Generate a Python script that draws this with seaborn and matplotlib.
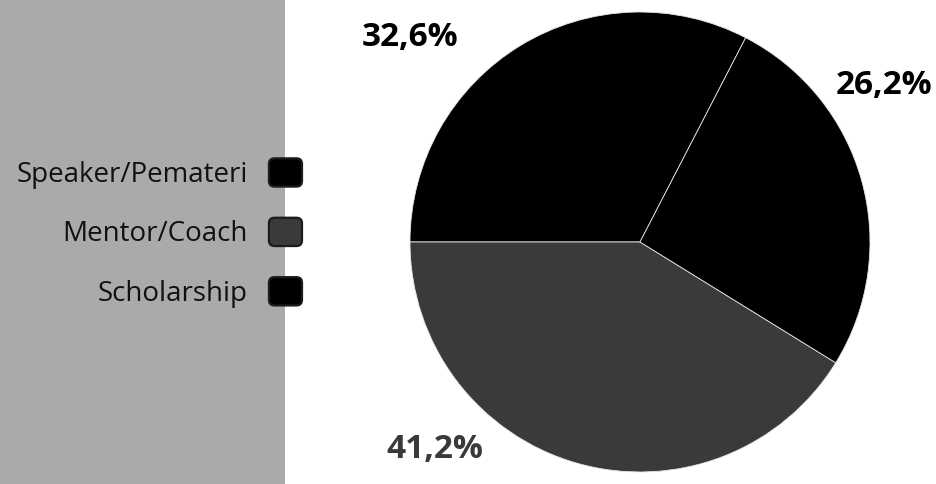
"""
    Pie chart of mentoring roles with a legend on a grey side panel
"""

import matplotlib
matplotlib.use("Agg")
import matplotlib.pyplot as plt
from matplotlib.patches import Patch, FancyBboxPatch, Rectangle
from matplotlib.legend_handler import HandlerPatch
import seaborn as sns

# data
roles = ["Speaker/Pemateri", "Mentor/Coach", "Scholarship"]
shares = [32.6, 41.2, 26.2]
share_labels = ["32,6%", "41,2%", "26,2%"]
colors = ["#000000", "#3a3a3a", "#000000"]
label_colors = ["#000000", "#3a3a3a", "#000000"]

# where each percentage sits (pie radius = 1)
label_pos = [(-1.0, 0.89), (-0.89, -0.90), (1.06, 0.68)]


class RoundBox(HandlerPatch):
    def create_artists(self, legend, orig_handle, xdescent, ydescent,
                       width, height, fontsize, trans):
        p = FancyBboxPatch((-xdescent, -ydescent), width, height,
                           boxstyle="round,pad=0,rounding_size=4",
                           facecolor=orig_handle.get_facecolor(),
                           edgecolor="#1c1c1c", linewidth=1.6)
        p.set_transform(trans)
        return [p]


sns.set_theme(style="white")
plt.rcParams["font.family"] = ["Open Sans", "DejaVu Sans"]

fig = plt.figure(figsize=(9.37, 4.84), dpi=100)
fig.patches.append(Rectangle((0, 0), 285 / 937, 1, transform=fig.transFigure,
                             facecolor="#aaaaaa", edgecolor="none", zorder=0))

ax = fig.add_axes([410 / 937, 12 / 484, 460 / 937, 460 / 484])
ax.pie(shares, colors=colors, startangle=180 - shares[0] * 3.6,
       counterclock=True, radius=1,
       wedgeprops=dict(edgecolor="#e6e6e6", linewidth=0.6))
ax.set_xlim(-1, 1)
ax.set_ylim(-1, 1)
ax.set_aspect("equal")
ax.axis("off")

for txt, (x, y), c in zip(share_labels, label_pos, label_colors):
    ax.text(x, y, txt, ha="center", va="center", fontsize=24,
            fontweight="bold", color=c, clip_on=False)

handles = [Patch(facecolor=c) for c in colors]
fig.legend(handles, roles, loc="center right",
           bbox_to_anchor=(302 / 937, 1 - 233 / 484),
           bbox_transform=fig.transFigure, frameon=False,
           markerfirst=False, fontsize=20, handlelength=1.19,
           handleheight=1.19, handletextpad=0.75, labelspacing=1.04,
           borderpad=0, borderaxespad=0,
           labelcolor="#111111",
           handler_map={Patch: RoundBox()})

fig.savefig("out.png", dpi=100)
